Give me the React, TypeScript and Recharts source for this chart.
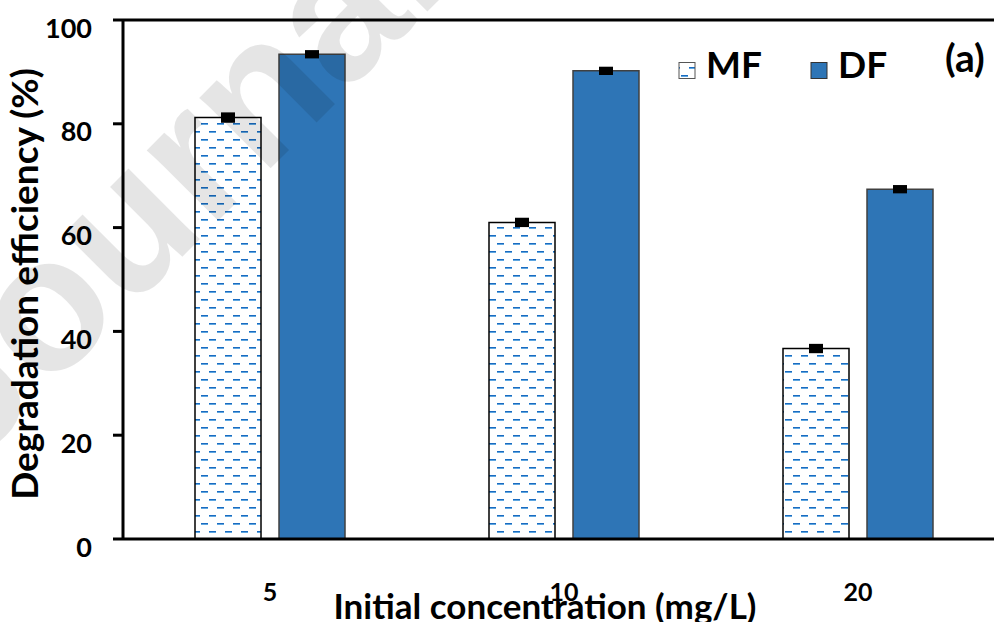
import { BarChart, Bar, XAxis, YAxis, ErrorBar, ReferenceLine, Legend, Label } from 'recharts'

// initial concentration (mg/L)
const categories = ['5', '10', '20']
// degradation efficiency (%)
const mfValues = [81.2, 61.0, 36.7]
const mfErrors = [1.0, 0.9, 0.9]
const dfValues = [93.4, 90.2, 67.4]
const dfErrors = [0.8, 0.8, 0.8]
const yTicks = [0, 20, 40, 60, 80, 100]

const data = categories.map((c, i) => ({
  conc: c,
  MF: mfValues[i],
  mfErr: mfErrors[i],
  DF: dfValues[i],
  dfErr: dfErrors[i],
}))

const FONT = 'Lato, "Open Sans", sans-serif'
const BLUE = '#2E75B6'

function DashPattern({ id }: { id: string }) {
  return (
    <pattern id={id} patternUnits="userSpaceOnUse" width={16} height={16}>
      <rect width={16} height={16} fill="#fff" />
      <rect x={1} y={3} width={7} height={1} fill="#1A6BC0" />
      <rect x={1} y={4} width={7} height={1} fill="#5FA6E0" />
      <rect x={9} y={11} width={7} height={1} fill="#1A6BC0" />
      <rect x={9} y={12} width={7} height={1} fill="#5FA6E0" />
    </pattern>
  )
}

function YTick(props: any) {
  const { x, y, payload } = props
  return (
    <text x={x} y={y + 7} textAnchor="end" dominantBaseline="central" fontFamily={FONT} fontWeight={700} fontSize={27} fill="#000">
      {payload.value}
    </text>
  )
}

function XTick(props: any) {
  const { x, payload } = props
  return (
    <text x={x} y={591} textAnchor="middle" dominantBaseline="central" fontFamily={FONT} fontWeight={700} fontSize={25} fill="#000">
      {payload.value}
    </text>
  )
}

// legend swatch positions
const legendX: Record<string, number> = { MF: 679, DF: 811 }

function LegendContent(props: any) {
  const { payload } = props
  return (
    <svg width={1005} height={100} style={{ display: 'block' }}>
      <defs>
        <DashPattern id="mfDashLegend" />
      </defs>
      {(payload || []).map((entry: any) => {
        const x = legendX[entry.value] ?? 0
        return (
          <g key={entry.value}>
            <rect
              x={x}
              y={62.5}
              width={16}
              height={16}
              fill={entry.value === 'MF' ? 'url(#mfDashLegend)' : BLUE}
              stroke={entry.value === 'MF' ? '#555' : '#333'}
              strokeWidth={1}
            />
            <text x={x + 27} y={78} fontFamily={FONT} fontWeight={700} fontSize={37} fill="#000">
              {entry.value}
            </text>
          </g>
        )
      })}
      <text x={945} y={72} fontFamily={FONT} fontWeight={700} fontSize={39} fill="#000">
        (a)
      </text>
    </svg>
  )
}

export default function App() {
  return (
    <div style={{ position: 'fixed', left: 0, top: 0, width: 994, height: 622, overflow: 'hidden', background: '#fff' }}>
      <BarChart
        width={1005}
        height={622}
        data={data}
        margin={{ top: 20, right: 0, bottom: 0, left: 0 }}
        barSize={66}
        barGap={18}
      >
        <defs>
          <DashPattern id="mfDash" />
        </defs>
        <XAxis
          dataKey="conc"
          height={83}
          axisLine={{ stroke: '#000', strokeWidth: 3 }}
          tickLine={false}
          tick={<XTick />}
          interval={0}
        >
          <Label
            content={() => (
              <text x={545} y={619} textAnchor="middle" fontFamily={FONT} fontWeight={700} fontSize={35} fill="#000">
                Initial concentration (mg/L)
              </text>
            )}
          />
        </XAxis>
        <YAxis
          width={123}
          domain={[0, 100]}
          ticks={yTicks}
          interval={0}
          tickSize={10}
          tickMargin={21}
          axisLine={{ stroke: '#000', strokeWidth: 3 }}
          tickLine={{ stroke: '#000', strokeWidth: 3 }}
          tick={<YTick />}
        >
          <Label
            content={() => (
              <text
                transform="translate(38 284) rotate(-90)"
                textAnchor="middle"
                fontFamily={FONT}
                fontWeight={700}
                fontSize={37}
                fill="#000"
              >
                Degradation efficiency (%)
              </text>
            )}
          />
        </YAxis>
        <ReferenceLine y={100} stroke="#000" strokeWidth={3} ifOverflow="extendDomain" />
        <Legend
          layout="horizontal"
          verticalAlign="middle"
          align="center"
          content={<LegendContent />}
          wrapperStyle={{ left: 0, top: 0, width: 1005, height: 100 }}
        />
        <Bar dataKey="MF" name="MF" fill="url(#mfDash)" stroke="#000" strokeWidth={1.5} isAnimationActive={false}>
          <ErrorBar dataKey="mfErr" direction="y" width={0} strokeWidth={14} stroke="#000" isAnimationActive={false} />
        </Bar>
        <Bar dataKey="DF" name="DF" fill={BLUE} stroke="#404040" strokeWidth={1.5} isAnimationActive={false}>
          <ErrorBar dataKey="dfErr" direction="y" width={0} strokeWidth={14} stroke="#000" isAnimationActive={false} />
        </Bar>
      </BarChart>
      <svg width={994} height={622} style={{ position: 'absolute', left: 0, top: 0, pointerEvents: 'none' }}>
        <text
          x={-30}
          y={469}
          transform="rotate(-45 -30 469)"
          fontFamily='"Liberation Sans", Arial, sans-serif'
          fontWeight={700}
          fontSize={190}
          fill="#000"
          fillOpacity={0.1}
        >
          Journal Pre-proof
        </text>
      </svg>
    </div>
  )
}
